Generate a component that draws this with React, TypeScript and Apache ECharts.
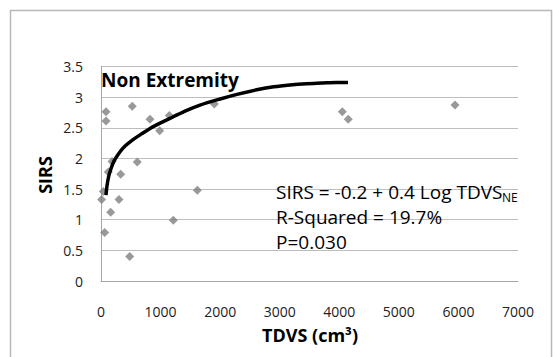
import React, { useEffect, useRef } from "react";
import * as echarts from "echarts";

const tdvs = [84, 84, 525, 823, 1147, 985, 1902, 185, 609, 123, 331, 39, 10, 302, 163, 1617, 1214, 62, 482, 4051, 4151, 5942];
const sirs = [2.76, 2.61, 2.85, 2.64, 2.70, 2.45, 2.89, 1.95, 1.94, 1.78, 1.74, 1.46, 1.33, 1.33, 1.12, 1.48, 0.99, 0.79, 0.40, 2.76, 2.64, 2.87];

const curveX = [84, 100, 130, 170, 220, 290, 380, 543, 680, 823, 1000, 1214, 1430, 1662, 2000, 2300, 2613, 2900, 3173, 3450, 3700, 3950, 4146];
const curveY = [1.40, 1.55, 1.71, 1.84, 1.96, 2.07, 2.18, 2.31, 2.40, 2.49, 2.58, 2.68, 2.78, 2.87, 2.97, 3.05, 3.12, 3.17, 3.20, 3.22, 3.23, 3.24, 3.24];

const yTicks = ["0", "0.5", "1", "1.5", "2", "2.5", "3", "3.5"];
const xTicks = ["0", "1000", "2000", "3000", "4000", "5000", "6000", "7000"];

const FONT = "'Open Sans', sans-serif";

export default function App() {
  const ref = useRef<HTMLDivElement>(null);
  useEffect(() => {
    if (!ref.current) return;
    const chart = echarts.init(ref.current, undefined, { renderer: "svg" });
    chart.setOption({
      animation: false,
      backgroundColor: "#ffffff",
      grid: { left: 101, right: 35, top: 66.5, bottom: 76, containLabel: false },
      xAxis: {
        type: "value",
        min: 0,
        max: 7000,
        interval: 1000,
        axisLine: { show: true, lineStyle: { color: "#a6a6a6", width: 1 } },
        axisTick: { show: false },
        splitLine: { show: false },
        axisLabel: { color: "#222", fontFamily: FONT, fontSize: 14, lineHeight: 14, margin: 23, formatter: (v: number) => xTicks[Math.round(v / 1000)] ?? String(v) },
      },
      yAxis: {
        type: "value",
        min: 0,
        max: 3.5,
        interval: 0.5,
        axisLine: { show: true, lineStyle: { color: "#a6a6a6", width: 1 } },
        axisTick: { show: false },
        splitLine: { show: true, lineStyle: { color: "#bdbdbd", width: 1 } },
        axisLabel: { color: "#222", fontFamily: FONT, fontSize: 14, margin: 18, formatter: (v: number) => yTicks[Math.round(v / 0.5)] ?? String(v) },
      },
      series: [
        {
          type: "scatter",
          data: tdvs.map((x, i) => [x, sirs[i]]),
          symbol: "diamond",
          symbolSize: [9, 9],
          itemStyle: { color: "#808080" },
          z: 2,
        },
        {
          type: "line",
          data: curveX.map((x, i) => [x, curveY[i]]),
          smooth: 0.3,
          showSymbol: false,
          lineStyle: { color: "#000000", width: 3.5 },
          z: 3,
        },
      ],
      graphic: [
        {
          type: "rect",
          shape: { x: 10.5, y: 10.5, width: 541, height: 400 },
          style: { fill: "none", stroke: "#b8b8b8", lineWidth: 1.5 },
          silent: true,
        },
        {
          type: "text",
          x: 101,
          y: 80,
          style: { text: "Non Extremity", font: `bold 19px ${FONT}`, fill: "#000", textVerticalAlign: "middle" },
          z: 10,
        },
        {
          type: "text",
          x: 45,
          y: 175,
          rotation: Math.PI / 2,
          style: { text: "SIRS", font: `bold 18px ${FONT}`, fill: "#000", textAlign: "center", textVerticalAlign: "middle" },
        },
        {
          type: "text",
          x: 310,
          y: 335,
          style: { text: "TDVS (cm³)", font: `bold 18px ${FONT}`, lineHeight: 18, fill: "#000", textAlign: "center", textVerticalAlign: "middle" },
        },
        {
          type: "text",
          x: 276,
          y: 191.7,
          style: { text: "SIRS = -0.2 + 0.4 Log TDVS", font: `19px ${FONT}`, fill: "#000", textVerticalAlign: "middle" },
          z: 10,
        },
        {
          type: "text",
          x: 502,
          y: 197.5,
          style: { text: "NE", font: `12px ${FONT}`, fill: "#000", textVerticalAlign: "middle" },
          z: 10,
        },
        {
          type: "text",
          x: 276,
          y: 216.7,
          style: { text: "R-Squared = 19.7%", font: `19px ${FONT}`, fill: "#000", textVerticalAlign: "middle" },
          z: 10,
        },
        {
          type: "text",
          x: 276,
          y: 241.7,
          style: { text: "P=0.030", font: `19px ${FONT}`, fill: "#000", textVerticalAlign: "middle" },
          z: 10,
        },
      ],
    });
    return () => chart.dispose();
  }, []);
  return <div ref={ref} style={{ position: "absolute", left: 0, top: 0, width: 553, height: 357 }} />;
}
